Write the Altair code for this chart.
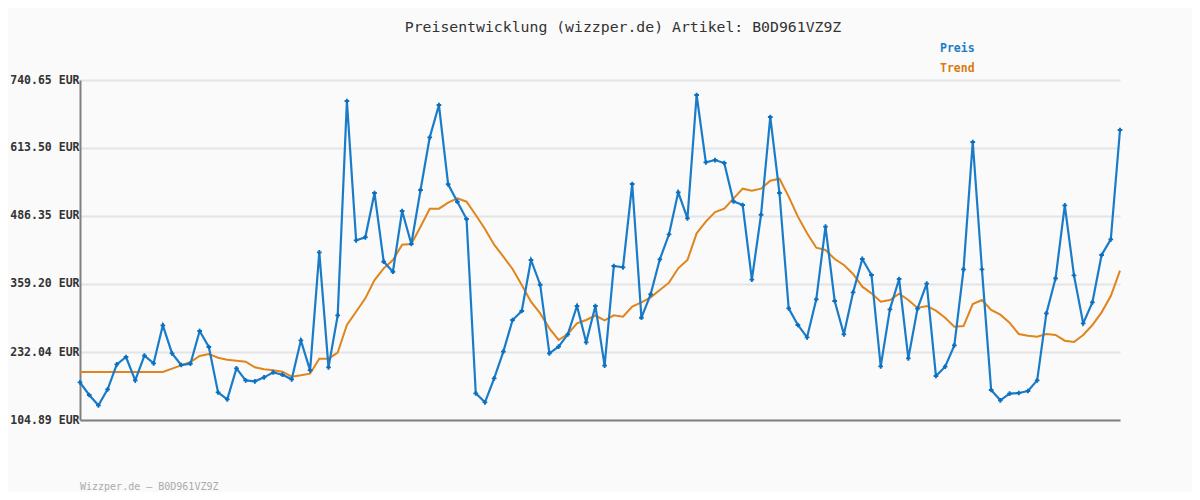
import altair as alt
import pandas as pd

TITLE = "Preisentwicklung (wizzper.de) Artikel: B0D961VZ9Z"
FOOTER = "Wizzper.de – B0D961VZ9Z"
SERIES = ["Preis", "Trend"]
COLORS = ["#1a7cc8", "#e0841c"]
Y_TICKS = [104.89, 232.04, 359.20, 486.35, 613.50, 740.65]

preis = [175.3, 151.6, 132.3, 162.2, 208.9, 222.7, 179.0, 225.2, 210.8, 281.9,
         229.5, 207.7, 210.2, 271.3, 241.4, 156.6, 143.5, 201.5, 179.0, 177.2,
         184.6, 194.0, 189.6, 180.9, 253.8, 197.8, 418.4, 203.4, 300.6, 701.4,
         440.8, 446.5, 529.3, 400.9, 382.2, 495.7, 434.0, 534.9, 633.4, 693.9,
         545.6, 513.1, 480.7, 154.7, 137.9, 182.8, 232.7, 291.9, 308.7, 404.1,
         357.9, 229.5, 242.0, 265.1, 318.0, 250.1, 318.0, 206.5, 392.9, 390.3,
         546.2, 296.2, 339.9, 405.3, 452.1, 530.6, 482.0, 712.6, 586.7, 591.0,
         585.4, 513.8, 506.9, 367.3, 488.8, 671.5, 529.3, 313.7, 282.5, 259.5,
         330.5, 466.4, 327.4, 265.1, 343.6, 406.0, 376.0, 205.2, 311.8, 368.5,
         220.2, 313.1, 359.8, 187.2, 204.6, 244.5, 386.6, 624.7, 386.6, 161.0,
         141.7, 154.1, 155.4, 159.1, 179.0, 304.3, 369.8, 506.3, 375.4, 285.6,
         324.9, 413.4, 442.7, 647.2]

trend = [194.6, 194.6, 194.6, 194.6, 194.6, 194.6, 194.6, 194.6, 194.6, 194.6,
         200.9, 207.1, 213.3, 224.6, 228.3, 221.4, 217.7, 215.8, 213.9, 203.4,
         199.6, 197.8, 195.3, 185.9, 188.4, 191.5, 219.6, 219.6, 230.8, 282.5,
         307.4, 332.4, 366.6, 388.5, 404.1, 432.7, 434.0, 466.4, 500.0, 500.0,
         511.3, 519.4, 513.1, 488.2, 462.0, 432.7, 410.3, 387.2, 357.3, 326.2,
         304.3, 276.3, 254.5, 265.7, 285.6, 291.9, 300.3, 291.2, 300.6, 298.1,
         316.8, 324.9, 334.3, 348.0, 361.7, 388.5, 404.1, 453.9, 475.8, 493.8,
         500.0, 518.7, 537.4, 533.7, 537.4, 552.4, 556.1, 522.5, 485.1, 453.9,
         427.1, 422.8, 405.9, 394.7, 378.0, 354.2, 341.7, 326.2, 329.3, 341.1,
         329.3, 314.3, 318.1, 309.3, 296.2, 279.4, 280.6, 321.8, 329.3, 310.6,
         301.8, 286.9, 265.7, 262.6, 260.7, 265.7, 263.8, 253.2, 250.7, 263.8,
         282.5, 306.2, 336.7, 384.1]

n = len(preis)
df_p = pd.DataFrame({"i": list(range(n)), "v": preis})
df_t = pd.DataFrame({"i": list(range(n)), "v": trend})

MONO = "DejaVu Sans Mono"

x_enc = alt.X("i:Q", scale=alt.Scale(domain=[0, n - 1], nice=False, zero=False),
              axis=alt.Axis(labels=False, ticks=False, grid=False, title=None,
                            domainColor="#808080", domainWidth=2))
y_enc = alt.Y("v:Q", scale=alt.Scale(domain=[Y_TICKS[0], Y_TICKS[-1]], nice=False, zero=False),
              axis=alt.Axis(values=Y_TICKS, title=None, ticks=False, grid=True,
                            gridColor="#e4e4e4", gridWidth=2,
                            domainColor="#808080", domainWidth=2,
                            labelExpr="format(datum.value, '.2f') + ' EUR'",
                            labelFont=MONO, labelFontWeight="bold", labelFontSize=11.5,
                            labelColor="#333333", labelPadding=1))

trend_line = alt.Chart(df_t).mark_line(color=COLORS[1], strokeWidth=2).encode(x=x_enc, y=y_enc)
preis_line = alt.Chart(df_p).mark_line(
    color=COLORS[0], strokeWidth=2.2,
    point=alt.OverlayMarkDef(shape="cross", size=22, filled=True, color="#0b6fbf"),
).encode(x=x_enc, y=y_enc)

one = df_p.head(1)
title = alt.Chart(one).mark_text(
    text=TITLE, font=MONO, fontSize=14.8, color="#333333",
    align="center", baseline="middle").encode(x=alt.value(543), y=alt.value(-52))
leg1 = alt.Chart(one).mark_text(
    text=SERIES[0], font=MONO, fontSize=11.5, fontWeight="bold", color="#1a7cc8",
    align="left", baseline="middle").encode(x=alt.value(860), y=alt.value(-31))
leg2 = alt.Chart(one).mark_text(
    text=SERIES[1], font=MONO, fontSize=11.5, fontWeight="bold", color="#d97a10",
    align="left", baseline="middle").encode(x=alt.value(860), y=alt.value(-11))
footer = alt.Chart(one).mark_text(
    text=FOOTER, font=MONO, fontSize=10, color="#aaaaaa",
    align="left", baseline="middle").encode(x=alt.value(0), y=alt.value(67 + 340))

chart = alt.layer(trend_line, preis_line, title, leg1, leg2, footer).properties(
    width=1040, height=340,
    autosize=alt.AutoSizeParams(type="none"),
    padding={"left": 72, "top": 72, "right": 72, "bottom": 72},
    background="#fafafa",
).configure_view(stroke=None)

chart.save("out.html", embed_options={"renderer": "svg", "actions": False})
